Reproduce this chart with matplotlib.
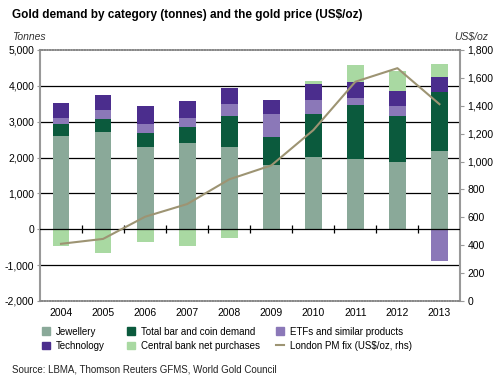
import numpy as np
import matplotlib
matplotlib.use("Agg")
import matplotlib.pyplot as plt
from matplotlib.patches import Patch
from matplotlib.lines import Line2D

plt.rcParams['font.family'] = ['Liberation Sans', 'DejaVu Sans']

# data (tonnes, US$/oz)
years = ['2004', '2005', '2006', '2007', '2008', '2009', '2010', '2011', '2012', '2013']
jewellery = [2600, 2710, 2280, 2400, 2280, 1790, 2015, 1960, 1885, 2190]
bar_coin = [340, 370, 400, 450, 885, 780, 1205, 1510, 1280, 1645]
etf = [150, 240, 260, 250, 335, 640, 380, 190, 280, -875]
technology = [420, 420, 490, 470, 430, 380, 450, 440, 400, 400]
central_bank = [-470, -660, -345, -475, -235, -30, 70, 470, 575, 370]
price = [410, 445, 604, 695, 872, 972, 1225, 1572, 1669, 1411]

c_jew = '#8aa999'
c_bar = '#0b5a3d'
c_etf = '#8b78b8'
c_tech = '#4b2d8d'
c_cb = '#a9d9a2'
c_line = '#9d9473'

fig = plt.figure(figsize=(5, 3.81), dpi=100)
ax = fig.add_axes([0.08, 0.21, 0.841, 0.659])

x = np.arange(len(years))
pos = np.zeros(len(years))
neg = np.zeros(len(years))
series = [(jewellery, c_jew), (bar_coin, c_bar), (etf, c_etf),
          (technology, c_tech), (central_bank, c_cb)]
for vals, col in series:
    v = np.array(vals, dtype=float)
    bottom = np.where(v >= 0, pos, neg)
    ax.bar(x, v, 0.4, bottom=bottom, color=col, zorder=2)
    pos = np.where(v >= 0, pos + v, pos)
    neg = np.where(v < 0, neg + v, neg)

ax.set_xlim(-0.5, 9.5)
ax.set_ylim(-2000, 5000)
ax.set_yticks(range(-2000, 5001, 1000))
ax.set_yticklabels([f'{v:,}' for v in range(-2000, 5001, 1000)])
ax.set_xticks(x)
ax.set_xticklabels(years)
ax.tick_params(axis='x', length=0, labelsize=7.5, pad=5)
ax.tick_params(axis='y', length=2, labelsize=7.5, pad=2, color='#999999')
for v in [-1000, 1000, 2000, 3000, 4000]:
    ax.axhline(v, color='black', lw=0.9, zorder=1)
ax.axhline(0, color='black', lw=0.9, zorder=3)
# little separators between the years on the zero line
ax.plot(x[:-1] + 0.5, np.zeros(len(x) - 1), '|', color='black', ms=6, mew=0.9, zorder=3)

for s in ['top', 'bottom']:
    ax.spines[s].set_color('#888888')
    ax.spines[s].set_linestyle((0, (1, 0.6)))
    ax.spines[s].set_linewidth(1.2)
for s in ['left', 'right']:
    ax.spines[s].set_color('#999999')
    ax.spines[s].set_linewidth(1.5)

ax2 = ax.twinx()
ax2.plot(x, price, color=c_line, lw=1.5, zorder=4)
ax2.set_ylim(0, 1800)
ax2.set_yticks(range(0, 1801, 200))
ax2.set_yticklabels([f'{v:,}' for v in range(0, 1801, 200)])
ax2.tick_params(axis='y', length=3, labelsize=7.5, pad=2, color='#999999')
for s in ax2.spines.values():
    s.set_visible(False)

fig.text(0.024, 0.96, 'Gold demand by category (tonnes) and the gold price (US$/oz)',
         fontsize=8.5, fontweight='bold', va='center')
fig.text(0.024, 0.902, 'Tonnes', fontsize=7.5, style='italic', va='center', color='#333333')
fig.text(0.976, 0.902, 'US$/oz', fontsize=7.5, style='italic', va='center', ha='right', color='#333333')

# legend: three single columns placed by hand
cols = [
    ([Patch(color=c_jew), Patch(color=c_tech)], ['Jewellery', 'Technology'], 0.084),
    ([Patch(color=c_bar), Patch(color=c_cb)],
     ['Total bar and coin demand', 'Central bank net purchases'], 0.254),
    ([Patch(color=c_etf), Line2D([], [], color=c_line, lw=1.5)],
     ['ETFs and similar products', 'London PM fix (US$/oz, rhs)'], 0.552),
]
for h, l, x0 in cols:
    fig.legend(h, l, ncol=1, loc='upper left', bbox_to_anchor=(x0, 0.143),
               frameon=False, fontsize=7, handlelength=0.8, handleheight=0.8,
               handletextpad=0.6, labelspacing=0.45, borderaxespad=0, borderpad=0)
fig.text(0.024, 0.03, 'Source: LBMA, Thomson Reuters GFMS, World Gold Council',
         fontsize=7, va='center', color='#222222')

fig.savefig('out.png', dpi=100)
